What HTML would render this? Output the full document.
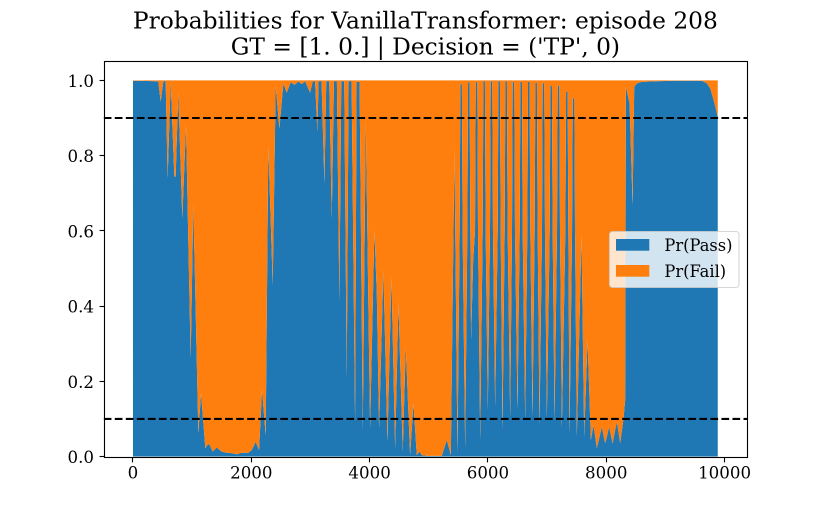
<!DOCTYPE html>
<html lang="en">
<head>
<meta charset="utf-8">
<title>Probabilities for VanillaTransformer: episode 208</title>
<style>
  html, body { margin: 0; padding: 0; background: #ffffff; }
  body { width: 830px; height: 513px; overflow: hidden; }
  svg { display: block; }
  text { font-family: "DejaVu Serif", "Liberation Serif", serif; fill: #000000; }
</style>
</head>
<body>
<svg id="chart" xmlns="http://www.w3.org/2000/svg" width="830" height="513" viewBox="0 0 830 513">
  <defs>
    <clipPath id="axes-clip"><rect x="103.75" y="61.56" width="643.25" height="395.01"></rect></clipPath>
  </defs>
  <g>
    <text x="425.4" y="28.5" font-size="23.33" text-anchor="middle">Probabilities for VanillaTransformer: episode 208</text>
    <text x="425.4" y="54.5" font-size="23.33" text-anchor="middle">GT = [1. 0.] | Decision = ('TP', 0)</text>
  </g>
  <g id="series-layer" clip-path="url(#axes-clip)"></g>
  <g id="threshold-layer" clip-path="url(#axes-clip)"></g>
  <g id="tick-layer"></g>
  <rect x="104.5" y="61.5" width="643" height="396" fill="none" stroke="#000000" stroke-width="1.11"></rect>
  <g>
    <rect x="609.5" y="231.5" width="129.5" height="56" rx="3" ry="3" fill="#ffffff" fill-opacity="0.8" stroke="#cccccc" stroke-opacity="0.8" stroke-width="1.11"></rect>
    <rect x="616" y="239" width="33.3" height="11.7" fill="#1f77b4"></rect>
    <text x="664.4" y="251" font-size="16.3">Pr(Pass)</text>
    <rect x="616" y="265" width="33.3" height="11.7" fill="#ff7f0e"></rect>
    <text x="664.4" y="277" font-size="16.3">Pr(Fail)</text>
  </g>
</svg>
<script>
const steps = [
  0,344,428,468,513,552,586,637,699,721,766,834,896,975,1020,1105,1150,1223,1257,1291,1347,1415,1499,1584,1668,1753,1838,1950,2007,2074,2131,2181,2243,2288,2362,2412,2475,2542,2599,2666,2728,2796,2852,2909,2993,3038,3078,3117,
  3137,3187,3236,3267,3317,3360,3397,3447,3489,3521,3571,3613,3645,3695,3754,3780,3830,3884,3935,4008,4081,4121,4160,4233,4301,4369,4431,4487,4560,4611,4684,4741,4797,4843,4882,4967,5220,5305,5373,5434,5485,
  5522,5534,5560,5572,5615,
  5652,5664,5690,5702,5715,5750,
  5782,5794,5820,5832,5869,
  5911,5923,5949,5961,5998,
  6035,6047,6073,6085,6122,
  6165,6177,6203,6215,6246,
  6283,6295,6321,6333,6376,
  6407,6419,6445,6457,6500,
  6537,6549,6575,6587,6630,
  6666,6678,6704,6716,6753,
  6790,6802,6828,6840,6872,
  6914,6926,6952,6964,6996,
  7044,7056,7082,7094,7126,
  7168,7180,7206,7218,7250,
  7309,7321,7347,7359,7379,
  7422,7434,7460,7472,7503,
  7582,7627,7684,7740,7785,7841,7926,7982,8050,8106,8180,8236,8292,8320,8332,8394,8445,8473,8518,8602,8743,8912,9194,9589,9616,9700,9757,9814,9885
];
const passProbability = [
  0.999,0.998,0.997,0.943,0.997,0.999,0.740,0.997,0.744,0.744,0.967,0.633,0.881,0.261,0.669,0.062,0.168,0.022,0.031,0.033,0.013,0.024,0.013,0.010,0.009,0.006,0.010,0.010,0.017,0.039,0.017,0.177,0.057,0.828,0.456,0.985,0.872,0.992,0.967,0.995,0.988,0.997,0.990,0.998,0.967,0.997,0.997,0.864,
  0.998,0.998,0.726,0.998,0.998,0.633,0.998,0.998,0.412,0.998,0.998,0.208,0.998,0.998,0.092,0.996,0.996,0.070,0.895,0.075,0.602,0.434,0.075,0.496,0.040,0.478,0.022,0.407,0.013,0.292,0.004,0.141,0.004,0.013,0.004,0.002,0.002,0.044,0.004,0.815,0.008,
  0.600,0.990,0.990,0.600,0.022,
  0.600,0.995,0.995,0.600,0.310,0.519,
  0.600,0.996,0.996,0.600,0.044,
  0.600,0.998,0.998,0.600,0.124,
  0.600,0.998,0.998,0.600,0.133,
  0.600,0.998,0.998,0.600,0.070,
  0.600,0.998,0.998,0.600,0.106,
  0.600,0.996,0.996,0.600,0.124,
  0.600,0.996,0.996,0.600,0.097,
  0.600,0.996,0.996,0.600,0.106,
  0.600,0.994,0.994,0.600,0.084,
  0.600,0.992,0.992,0.600,0.101,
  0.600,0.986,0.986,0.600,0.097,
  0.600,0.986,0.986,0.600,0.075,
  0.600,0.970,0.970,0.600,0.057,
  0.600,0.952,0.952,0.600,0.053,
  0.589,0.053,0.310,0.044,0.084,0.022,0.079,0.035,0.079,0.035,0.093,0.035,0.102,0.150,0.983,0.939,0.669,0.983,0.992,0.996,0.997,0.998,0.999,0.999,0.999,0.992,0.979,0.948,0.903
];
const thresholds = [0.9, 0.1];
const xTickValues = [0, 2000, 4000, 6000, 8000, 10000];
const xTickLabels = ['0', '2000', '4000', '6000', '8000', '10000'];
const yTickValues = [0, 0.2, 0.4, 0.6, 0.8, 1.0];
const yTickLabels = ['0.0', '0.2', '0.4', '0.6', '0.8', '1.0'];

const SVG_NS = 'http://www.w3.org/2000/svg';
const plotLeft = 103.75, plotRight = 747, plotTop = 61.56, plotBottom = 456.57;
const lastStep = steps[steps.length - 1];
const xMin = -0.05 * lastStep, xMax = 1.05 * lastStep;
const yMin = 0, yMax = 1.05;
function xScale(v) { return plotLeft + (v - xMin) / (xMax - xMin) * (plotRight - plotLeft); }
function yScale(v) { return plotBottom - (v - yMin) / (yMax - yMin) * (plotBottom - plotTop); }

const seriesLayer = document.getElementById('series-layer');
const thresholdLayer = document.getElementById('threshold-layer');
const tickLayer = document.getElementById('tick-layer');

const curve = steps.map(function (s, i) {
  return xScale(s).toFixed(2) + ',' + yScale(passProbability[i]).toFixed(2);
});
const x0 = xScale(steps[0]).toFixed(2);
const x1 = xScale(lastStep).toFixed(2);

const passArea = document.createElementNS(SVG_NS, 'polygon');


passArea.setAttribute('fill', '#1f77b4');
passArea.setAttribute('points', x0 + ',' + yScale(0).toFixed(2) + ' ' + curve.join(' ') + ' ' + x1 + ',' + yScale(0).toFixed(2));
seriesLayer.appendChild(passArea);

const failArea = document.createElementNS(SVG_NS, 'polygon');


failArea.setAttribute('fill', '#ff7f0e');
failArea.setAttribute('points', x0 + ',' + yScale(1).toFixed(2) + ' ' + curve.join(' ') + ' ' + x1 + ',' + yScale(1).toFixed(2));
seriesLayer.appendChild(failArea);

thresholds.forEach(function (t) {
  const line = document.createElementNS(SVG_NS, 'line');
  
  
  line.setAttribute('x1', plotLeft);
  line.setAttribute('x2', plotRight);
  line.setAttribute('y1', yScale(t));
  line.setAttribute('y2', yScale(t));
  line.setAttribute('stroke', '#000000');
  line.setAttribute('stroke-width', '2.08');
  line.setAttribute('stroke-dasharray', '7.7 3.33');
  thresholdLayer.appendChild(line);
});

xTickValues.forEach(function (v, i) {
  const px = Math.floor(xScale(v)) + 0.5;
  const tick = document.createElementNS(SVG_NS, 'line');
  
  
  tick.setAttribute('x1', px);
  tick.setAttribute('x2', px);
  tick.setAttribute('y1', 457.5);
  tick.setAttribute('y2', 462.4);
  tick.setAttribute('stroke', '#000000');
  tick.setAttribute('stroke-width', '1.11');
  tickLayer.appendChild(tick);
  const label = document.createElementNS(SVG_NS, 'text');
  
  
  label.setAttribute('x', xScale(v));
  label.setAttribute('y', 478.5);
  label.setAttribute('font-size', '16.67');
  label.setAttribute('text-anchor', 'middle');
  label.textContent = xTickLabels[i];
  tickLayer.appendChild(label);
});

yTickValues.forEach(function (v, i) {
  const py = Math.floor(yScale(v)) + 0.5;
  const tick = document.createElementNS(SVG_NS, 'line');
  
  
  tick.setAttribute('x1', 99.6);
  tick.setAttribute('x2', 104.5);
  tick.setAttribute('y1', py);
  tick.setAttribute('y2', py);
  tick.setAttribute('stroke', '#000000');
  tick.setAttribute('stroke-width', '1.11');
  tickLayer.appendChild(tick);
  const label = document.createElementNS(SVG_NS, 'text');
  
  
  label.setAttribute('x', 94);
  label.setAttribute('y', yScale(v) + 6.5);
  label.setAttribute('font-size', '16.67');
  label.setAttribute('text-anchor', 'end');
  label.textContent = yTickLabels[i];
  tickLayer.appendChild(label);
});
</script>
</body>
</html>
